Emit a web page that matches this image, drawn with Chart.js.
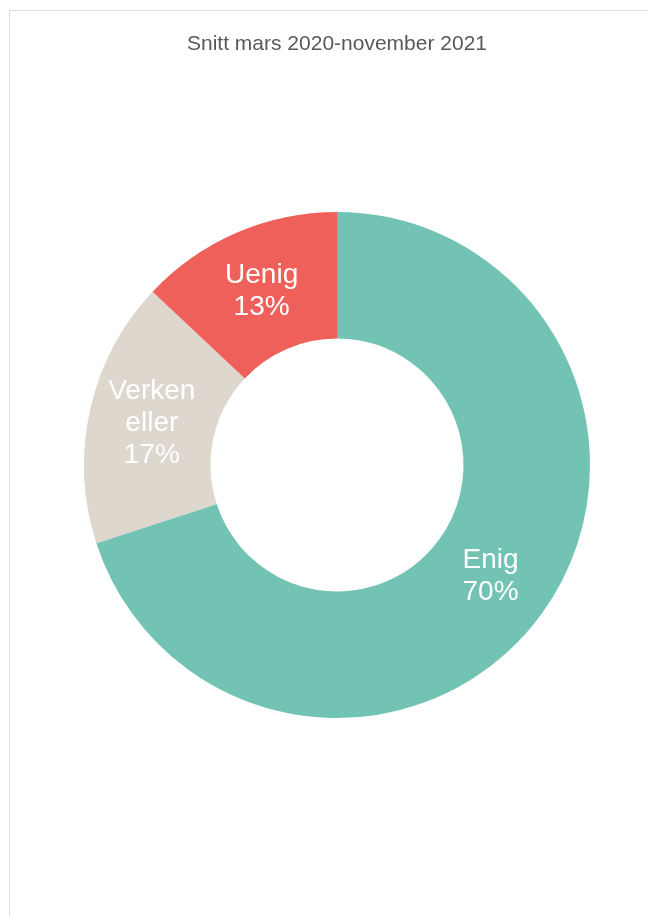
<!DOCTYPE html>
<html>
<head>
<meta charset="utf-8">
<script src="https://cdn.jsdelivr.net/npm/chart.js@4/dist/chart.umd.min.js"></script>
<style>
  html, body { margin: 0; padding: 0; background: #fff; }
  .frame {
    position: absolute; left: 9px; top: 10px; width: 639px; height: 906px;
    border-top: 1px solid #dcdcdc; border-left: 1px solid #dcdcdc;
  }
  .wrap { position: absolute; left: 0; top: 0; width: 648px; height: 916px; }
</style>
</head>
<body>
<div class="frame"></div>
<div class="wrap"><canvas id="chart"></canvas></div>
<script>
// data
const categories = ['Enig', 'Verken eller', 'Uenig'];
const labelLines = [['Enig'], ['Verken', 'eller'], ['Uenig']];
const shares = [70, 17, 13];
const sliceColors = ['#72c3b4', '#ddd7ce', '#f0605b'];

// tekst inne i hver bit
const sliceLabels = {
    id: 'sliceLabels',
    afterDatasetsDraw(chart) {
        const ctx = chart.ctx;
        const meta = chart.getDatasetMeta(0);
        ctx.save();
        ctx.font = '28px "Liberation Sans", Arial, sans-serif';
        ctx.fillStyle = '#ffffff';
        ctx.textAlign = 'center';
        ctx.textBaseline = 'middle';
        const lh = 32;
        meta.data.forEach((arc, i) => {
            const p = arc.tooltipPosition();
            const lines = labelLines[i].concat([shares[i] + '%']);
            const y0 = p.y - (lines.length - 1) * lh / 2;
            lines.forEach((t, k) => ctx.fillText(t, p.x, y0 + k * lh));
        });
        ctx.restore();
    }
};

new Chart(document.getElementById('chart'), {
    type: 'doughnut',
    data: {
        labels: categories,
        datasets: [{
            data: shares,
            backgroundColor: sliceColors,
            borderWidth: 0
        }]
    },
    options: {
        responsive: true,
        maintainAspectRatio: false,
        animation: false,
        cutout: '50%',
        layout: { padding: { left: 84, right: 58, top: 0, bottom: 198 } },
        plugins: {
            legend: { display: false },
            tooltip: { enabled: false },
            title: {
                display: true,
                text: 'Snitt mars 2020-november 2021',
                color: '#595959',
                font: { family: '"Liberation Sans", Arial, sans-serif', size: 21, weight: 'normal', lineHeight: 1.2 },
                padding: { top: 31.4, bottom: 155.4 }
            }
        }
    },
    plugins: [sliceLabels]
});
</script>
</body>
</html>
